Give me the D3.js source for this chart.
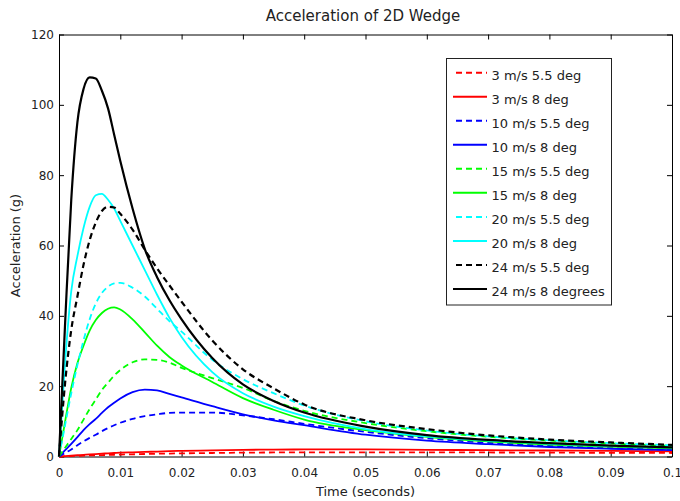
<!DOCTYPE html>
<html>
<head>
<meta charset="utf-8">
<script src="https://cdn.jsdelivr.net/npm/d3@7"></script>
<style>
  body { margin: 0; background: #fff; }
  text { font-family: 'DejaVu Sans', sans-serif; fill: #222; }
  .title { font-size: 15px; text-anchor: middle; }
  .axis-label { font-size: 13px; text-anchor: middle; }
  .tick text { font-size: 12px; fill: #222; font-family: 'DejaVu Sans', sans-serif; }
  .legend text { font-size: 13px; }
</style>
</head>
<body>
<svg width="680" height="501"></svg>
<script>
const svg = d3.select('svg');
const width  = +svg.attr('width');
const height = +svg.attr('height');

// time grid (seconds) shared by every series
const time = [0, 0.001, 0.002, 0.003, 0.004, 0.005, 0.006, 0.007, 0.008, 0.009, 0.01,
  0.012, 0.014, 0.016, 0.018, 0.02, 0.025, 0.03, 0.035, 0.04, 0.05, 0.06, 0.07, 0.08, 0.09, 0.1];

// acceleration (g) at each time
const v3_55  = [0, 0.06, 0.12, 0.18, 0.24, 0.3, 0.35, 0.4, 0.45, 0.5, 0.55,
  0.63, 0.71, 0.78, 0.84, 0.9, 1.0, 1.1, 1.15, 1.2, 1.2, 1.2, 1.15, 1.1, 1.05, 1.0];
const v3_8   = [0, 0.12, 0.24, 0.36, 0.48, 0.6, 0.7, 0.8, 0.9, 1.0, 1.1,
  1.2, 1.3, 1.4, 1.5, 1.6, 1.75, 1.9, 1.95, 2.0, 2.0, 1.9, 1.8, 1.7, 1.6, 1.5];
const v10_55 = [0, 1, 2, 3.2, 4.3, 5.3, 6.2, 7.2, 8.1, 8.9, 9.6,
  10.7, 11.5, 12, 12.4, 12.5, 12.5, 11.7, 10.6, 9.3, 7, 5.2, 3.9, 3.0, 2.4, 1.9];
const v10_8  = [0, 1.8, 3.6, 5.5, 7.5, 9.2, 10.7, 12.4, 14, 15.3, 16.5,
  18.3, 19, 18.8, 17.8, 16.8, 14.3, 12, 10.3, 8.9, 6.2, 4.5, 3.5, 2.7, 2.2, 1.8];
const v15_55 = [0, 2.5, 5, 7.5, 10.5, 13.5, 16.2, 18.9, 21, 23, 24.6,
  26.8, 27.6, 27.5, 26.7, 25.2, 22.3, 19.5, 15.8, 13, 9.5, 7.2, 5.6, 4.5, 3.7, 3.0];
const v15_8  = [0, 10, 19.5, 26.5, 31.5, 35.8, 38.8, 40.8, 42, 42.4, 41.8,
  39, 35.3, 31.5, 28.3, 25.9, 21.2, 16.6, 13.3, 10.5, 7.5, 5.6, 4.3, 3.4, 2.8, 2.3];
const v20_55 = [0, 9, 18, 26, 33, 39, 43.5, 46.5, 48.3, 49.2, 49.4,
  48, 45.5, 42, 38.5, 35.5, 27.5, 22, 18, 14.5, 10, 7.4, 5.7, 4.6, 3.8, 3.2];
const v20_8  = [0, 27, 47, 57, 65, 71, 74.3, 74.7, 73, 70.5, 67,
  60, 53, 46, 39.5, 34, 24, 18, 14.2, 11.5, 7.8, 5.7, 4.5, 3.6, 3.0, 2.5];
const v24_55 = [0, 21, 36, 45.5, 54.5, 61.5, 66.5, 69.8, 71, 70.8, 69,
  64.5, 58.8, 53.5, 48.7, 44, 33, 24.8, 19.4, 14.8, 10.3, 7.8, 6.0, 4.8, 4.0, 3.3];
const v24_8  = [0, 38, 73, 95, 104.5, 107.8, 107.5, 104, 99, 91.5, 84,
  70.5, 59, 51, 44.5, 39, 28, 20.5, 15.8, 12.5, 8.5, 6.1, 4.7, 3.8, 3.1, 2.6];

const seriesNames  = ['3 m/s 5.5 deg', '3 m/s 8 deg', '10 m/s 5.5 deg', '10 m/s 8 deg',
  '15 m/s 5.5 deg', '15 m/s 8 deg', '20 m/s 5.5 deg', '20 m/s 8 deg',
  '24 m/s 5.5 deg', '24 m/s 8 degrees'];
const seriesValues = [v3_55, v3_8, v10_55, v10_8, v15_55, v15_8, v20_55, v20_8, v24_55, v24_8];
const seriesColors = ['#ff0000', '#ff0000', '#0000ff', '#0000ff', '#00ff00', '#00ff00',
  '#00ffff', '#00ffff', '#000000', '#000000'];
const seriesDashed = [true, false, true, false, true, false, true, false, true, false];

const xTicks = [0, 0.01, 0.02, 0.03, 0.04, 0.05, 0.06, 0.07, 0.08, 0.09, 0.1];
const yTicks = [0, 20, 40, 60, 80, 100, 120];

const margin = { top: 34.5, bottom: 44.5, left: 59, right: 8 };
const innerWidth = width - margin.left - margin.right;
const innerHeight = height - margin.top - margin.bottom;

const root = svg.append('g')
  .attr('transform', `translate(${margin.left}, ${margin.top})`);

const xScale = d3.scaleLinear().domain([0, 0.1]).range([0, innerWidth]);
const yScale = d3.scaleLinear().domain([0, 120]).range([innerHeight, 0]);

// axes, MATLAB style: full box, ticks pointing inward
const xAxis = d3.axisBottom(xScale).tickValues(xTicks).tickFormat(d => String(d))
  .tickSizeInner(-5).tickSizeOuter(0).tickPadding(12);
const yAxis = d3.axisLeft(yScale).tickValues(yTicks)
  .tickSizeInner(-5).tickSizeOuter(0).tickPadding(5);
const xTop = d3.axisTop(xScale).tickValues(xTicks).tickFormat('')
  .tickSizeInner(-5).tickSizeOuter(0);
const yRight = d3.axisRight(yScale).tickValues(yTicks).tickFormat('')
  .tickSizeInner(-5).tickSizeOuter(0);

root.append('g').attr('transform', `translate(0, ${innerHeight})`).call(xAxis);
root.append('g').call(yAxis);
root.append('g').call(xTop);
root.append('g').attr('transform', `translate(${innerWidth}, 0)`).call(yRight);
root.selectAll('.domain').attr('stroke', '#000');
root.selectAll('.tick line').attr('stroke', '#000');

// curves
const line = d3.line()
  .x((d, i) => xScale(time[i]))
  .y(d => yScale(d))
  .curve(d3.curveMonotoneX);

root.selectAll('path.series')
  .data(seriesValues)
  .enter()
  .append('path')
    .attr('class', 'series')
    .attr('d', line)
    .attr('fill', 'none')
    .attr('stroke', (d, i) => seriesColors[i])
    .attr('stroke-width', (d, i) => i >= 8 ? 2.2 : 1.8)
    .attr('stroke-dasharray', (d, i) => seriesDashed[i] ? '6,4' : null);

// title and axis labels
svg.append('text')
  .attr('class', 'title')
  .attr('x', 363)
  .attr('y', 20.5)
  .text('Acceleration of 2D Wedge');

svg.append('text')
  .attr('class', 'axis-label')
  .attr('x', margin.left + innerWidth / 2)
  .attr('y', 496)
  .text('Time (seconds)');

svg.append('text')
  .attr('class', 'axis-label')
  .attr('transform', `translate(20, ${margin.top + innerHeight / 2}) rotate(-90)`)
  .text('Acceleration (g)');

// legend
const legend = svg.append('g').attr('class', 'legend');
legend.append('rect')
  .attr('x', 446.5).attr('y', 58.5)
  .attr('width', 165).attr('height', 246.5)
  .attr('fill', '#fff').attr('stroke', '#222');

const entry = legend.selectAll('g.entry')
  .data(seriesNames)
  .enter()
  .append('g')
    .attr('class', 'entry')
    .attr('transform', (d, i) => `translate(0, ${72.7 + i * 24.03})`);

entry.append('line')
  .attr('x1', (d, i) => seriesDashed[i] ? 456 : 453)
  .attr('x2', 487)
  .attr('stroke', (d, i) => seriesColors[i])
  .attr('stroke-width', 2)
  .attr('stroke-dasharray', (d, i) => seriesDashed[i] ? '6,4' : null);

entry.append('text')
  .attr('x', 491.5)
  .attr('y', 7.3)
  .text(d => d);
</script>
</body>
</html>
